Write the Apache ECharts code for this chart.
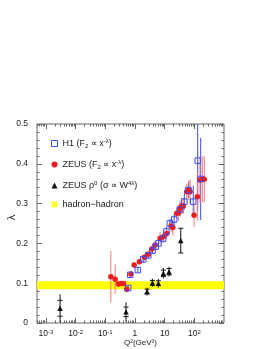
<!DOCTYPE html>
<html><head><meta charset="utf-8">
<script src="https://cdn.jsdelivr.net/npm/echarts@6/dist/echarts.min.js"></script>
<style>html,body{margin:0;padding:0;background:#fff}#c{width:270px;height:349px}</style>
</head><body><div id="c"></div>
<script>
// ---- tick labels ----
const xTickValues = [1e-3, 1e-2, 1e-1, 1, 10, 100];
const xTickLabels = ['{b|10}{s|-3}', '{b|10}{s|-2}', '{b|10}{s|-1}', '{b|1}', '{b|10}', '{b|10}{s|2}'];
const yTickLabels = ['0', '0.1', '0.2', '0.3', '0.4', '0.5'];

// ---- H1 (F2 ~ x^-lambda) ----
const h1Q2     = [0.59, 0.69, 1.25, 1.9, 2.8, 3.9, 5.0, 6.2, 9.0, 11.5, 15, 21, 33, 46, 63, 92, 130, 164];
const h1Lambda = [0.088, 0.121, 0.133, 0.160, 0.170, 0.182, 0.192, 0.200, 0.212, 0.230, 0.250, 0.260, 0.285, 0.305, 0.334, 0.305, 0.408, 0.362];
const h1Err    = [0.006, 0.007, 0.007, 0.008, 0.008, 0.009, 0.009, 0.010, 0.010, 0.012, 0.012, 0.014, 0.016, 0.020, 0.020, 0.040, 0.125, 0.103];

// ---- ZEUS (F2 ~ x^-lambda) ----
const zeusQ2     = [0.154, 0.215, 0.278, 0.343, 0.41, 0.53, 0.73, 0.94, 1.41, 2.08, 2.84, 3.7, 4.76, 7.0, 9.06, 11.8, 16.5, 18.8, 25.6, 29, 33, 37.7, 42.7, 55.5, 66, 72, 98, 126, 155, 186, 217];
const zeusLambda = [0.116, 0.110, 0.098, 0.099, 0.099, 0.085, 0.123, 0.146, 0.154, 0.165, 0.173, 0.186, 0.196, 0.213, 0.217, 0.225, 0.244, 0.240, 0.276, 0.277, 0.288, 0.294, 0.294, 0.330, 0.334, 0.330, 0.271, 0.317, 0.359, 0.361, 0.361];
const zeusErr    = [0.065, 0.037, 0.008, 0.006, 0.006, 0.008, 0.006, 0.007, 0.007, 0.008, 0.008, 0.009, 0.012, 0.015, 0.012, 0.012, 0.015, 0.020, 0.015, 0.020, 0.020, 0.020, 0.020, 0.020, 0.025, 0.030, 0.030, 0.060, 0.058, 0.058, 0.058];

// ---- ZEUS rho0 (sigma ~ W^4lambda) ----
const rhoQ2      = [0.003, 0.5, 2.56, 3.87, 6.15, 9.06, 14.1, 34.9];
const rhoLambda  = [0.037, 0.028, 0.079, 0.101, 0.100, 0.125, 0.129, 0.207];
const rhoErrTot  = [0.035, 0.024, 0.010, 0.010, 0.011, 0.013, 0.012, 0.031];
const rhoErrStat = [0.020, 0.012, 0.006, 0.006, 0.006, 0.008, 0.008, 0.031];

// ---- hadron-hadron band ----
const hadronBand = [0.085, 0.105];

const legendTexts = {
  'H1': '{t|H1 (F}{sub|2}{t| ∝ x}{sup|-λ}{t|)}',
  'ZEUS': '{t|ZEUS (F}{sub|2}{t| ∝ x}{sup|-λ}{t|)}',
  'ZEUS rho': '{t|ZEUS ρ}{sup|0}{t| (σ ∝ W}{sup|4λ}{t|)}',
  'hadron-hadron': '{t|hadron−hadron}'
};

const minorX = [];
for (let e = -4; e <= 2; e++) {
  for (let m = 2; m <= 9; m++) {
    const v = m * Math.pow(10, e);
    if (v >= 5e-4 && v <= 1000) minorX.push(v);
  }
}

const FONT = 'Liberation Sans, Arial, sans-serif';
const AX = '#666';
const BLUE = '#3c4cf0';
const RED = '#ee1c1c';
const RED_ERR = '#f27a7a';

function zip3(a, b, c) { return a.map((v, i) => [v, b[i], c[i]]); }

function errBar(color) {
  return function (params, api) {
    const x = api.value(0), y = api.value(1), e = api.value(2);
    const p1 = api.coord([x, y + e]);
    const p2 = api.coord([x, y - e]);
    return {
      type: 'line',
      shape: { x1: p1[0], y1: p1[1], x2: p2[0], y2: p2[1] },
      style: { stroke: color, lineWidth: 1 }
    };
  };
}

function rhoBar(params, api) {
  const x = api.value(0), y = api.value(1), et = api.value(2), es = api.value(3);
  const a = api.coord([x, y + et]);
  const b = api.coord([x, y - et]);
  const c = api.coord([x, y + es]);
  const d = api.coord([x, y - es]);
  const w = 2.5;
  return {
    type: 'group',
    children: [
      { type: 'line', shape: { x1: a[0], y1: a[1], x2: b[0], y2: b[1] }, style: { stroke: '#111', lineWidth: 1 } },
      { type: 'line', shape: { x1: c[0] - w, y1: c[1], x2: c[0] + w, y2: c[1] }, style: { stroke: '#111', lineWidth: 1 } },
      { type: 'line', shape: { x1: d[0] - w, y1: d[1], x2: d[0] + w, y2: d[1] }, style: { stroke: '#111', lineWidth: 1 } }
    ]
  };
}

const xBase = { type: 'log', logBase: 10, min: 5e-4, max: 1000, gridIndex: 0, splitLine: { show: false } };
const yBase = { type: 'value', min: 0, max: 0.5, interval: 0.1, gridIndex: 0, splitLine: { show: false } };

const chart = echarts.init(document.getElementById('c'), null, { renderer: 'canvas' });
chart.setOption({
  animation: false,
  backgroundColor: '#fff',
  textStyle: { fontFamily: FONT },
  grid: { left: 37, right: 46, top: 124, bottom: 26, show: true, borderColor: AX, borderWidth: 1, backgroundColor: 'transparent', containLabel: false, outerBoundsMode: 'none' },
  legend: {
    data: [
      { name: 'H1', icon: 'rect', itemStyle: { color: '#fff', borderColor: BLUE, borderWidth: 1 } },
      { name: 'ZEUS', icon: 'circle', itemStyle: { color: RED } },
      { name: 'ZEUS rho', icon: 'triangle', itemStyle: { color: '#111' } },
      { name: 'hadron-hadron', icon: 'rect', itemStyle: { color: '#ffff00' } }
    ],
    orient: 'vertical', left: 46, top: 133, itemWidth: 6, itemHeight: 6, itemGap: 10,
    selectedMode: false,
    formatter: name => legendTexts[name],
    textStyle: {
      fontFamily: FONT, color: '#222',
      rich: {
        t: { fontSize: 9, fontFamily: FONT, color: '#222', lineHeight: 11 },
        sub: { fontSize: 6, fontFamily: FONT, color: '#222', verticalAlign: 'bottom', lineHeight: 11 },
        sup: { fontSize: 6, fontFamily: FONT, color: '#222', verticalAlign: 'top', lineHeight: 11 }
      }
    }
  },
  xAxis: [
    Object.assign({}, xBase, {
      position: 'bottom',
      name: 'Q²(GeV²)', nameLocation: 'middle', nameGap: 16, nameMoveOverlap: false,
      nameTextStyle: { fontSize: 8, color: '#222', fontFamily: FONT, padding: [0, 0, 0, 20] },
      axisLine: { show: false },
      axisTick: { show: true, inside: true, length: 5, lineStyle: { color: AX }, customValues: xTickValues },
      axisLabel: {
        show: true, margin: 6, customValues: xTickValues,
        formatter: v => { const i = xTickValues.findIndex(t => Math.abs(Math.log10(t) - Math.log10(v)) < 1e-6); return i >= 0 ? xTickLabels[i] : ''; },
        rich: {
          b: { fontSize: 8.5, fontFamily: FONT, color: '#222', lineHeight: 10 },
          s: { fontSize: 6, fontFamily: FONT, color: '#222', verticalAlign: 'top', lineHeight: 10 }
        }
      }
    }),
    Object.assign({}, xBase, {
      position: 'bottom', axisLine: { show: false }, axisLabel: { show: false },
      axisTick: { show: true, inside: true, length: 2.5, lineStyle: { color: AX }, customValues: minorX }
    }),
    Object.assign({}, xBase, {
      position: 'top', axisLine: { show: false }, axisLabel: { show: false },
      axisTick: { show: true, inside: true, length: 5, lineStyle: { color: AX }, customValues: xTickValues }
    }),
    Object.assign({}, xBase, {
      position: 'top', axisLine: { show: false }, axisLabel: { show: false },
      axisTick: { show: true, inside: true, length: 2.5, lineStyle: { color: AX }, customValues: minorX }
    })
  ],
  yAxis: [
    Object.assign({}, yBase, {
      position: 'left',
      name: 'λ', nameLocation: 'middle', nameGap: 20, nameMoveOverlap: false,
      nameTextStyle: { fontSize: 11, color: '#222', fontFamily: FONT, padding: [0, 0, 0, 12] },
      axisLine: { show: false },
      axisTick: { show: true, inside: true, length: 5, lineStyle: { color: AX } },
      minorTick: { show: true, splitNumber: 5, length: 2.5, lineStyle: { color: AX } },
      axisLabel: { show: true, margin: 9, fontSize: 8.5, color: '#222', fontFamily: FONT, formatter: v => yTickLabels[Math.round(v * 10)] }
    }),
    Object.assign({}, yBase, {
      position: 'right',
      axisLine: { show: false },
      axisTick: { show: true, inside: true, length: 5, lineStyle: { color: AX } },
      minorTick: { show: true, splitNumber: 5, length: 2.5, lineStyle: { color: AX } },
      axisLabel: { show: false }
    })
  ],
  series: [
    {
      name: 'hadron-hadron', type: 'scatter', xAxisIndex: 0, yAxisIndex: 0, data: [],
      itemStyle: { color: '#ffff00' },
      markArea: { silent: true, itemStyle: { color: '#ffff00', opacity: 1 }, data: [[{ yAxis: hadronBand[0] }, { yAxis: hadronBand[1] }]] },
      z: 1
    },
    { type: 'custom', xAxisIndex: 0, yAxisIndex: 0, renderItem: errBar(BLUE), data: zip3(h1Q2, h1Lambda, h1Err), clip: true, z: 2, silent: true },
    { type: 'custom', xAxisIndex: 0, yAxisIndex: 0, renderItem: errBar(RED_ERR), data: zip3(zeusQ2, zeusLambda, zeusErr), clip: true, z: 3, silent: true },
    {
      name: 'ZEUS', type: 'scatter', xAxisIndex: 0, yAxisIndex: 0, symbol: 'circle', symbolSize: 5.5,
      itemStyle: { color: RED, opacity: 1 }, data: zeusQ2.map((q, i) => [q, zeusLambda[i]]), z: 4
    },
    {
      name: 'H1', type: 'scatter', xAxisIndex: 0, yAxisIndex: 0, symbol: 'rect', symbolSize: 5.5,
      itemStyle: { color: 'rgba(255,255,255,0)', borderColor: BLUE, borderWidth: 1, opacity: 1 },
      data: h1Q2.map((q, i) => [q, h1Lambda[i]]), z: 5
    },
    { type: 'custom', xAxisIndex: 0, yAxisIndex: 0, renderItem: rhoBar, data: rhoQ2.map((q, i) => [q, rhoLambda[i], rhoErrTot[i], rhoErrStat[i]]), clip: true, z: 6, silent: true },
    {
      name: 'ZEUS rho', type: 'scatter', xAxisIndex: 0, yAxisIndex: 0, symbol: 'triangle', symbolSize: 5.5,
      itemStyle: { color: '#111', opacity: 1 }, data: rhoQ2.map((q, i) => [q, rhoLambda[i]]), z: 7
    }
  ]
});
</script>
</body></html>
